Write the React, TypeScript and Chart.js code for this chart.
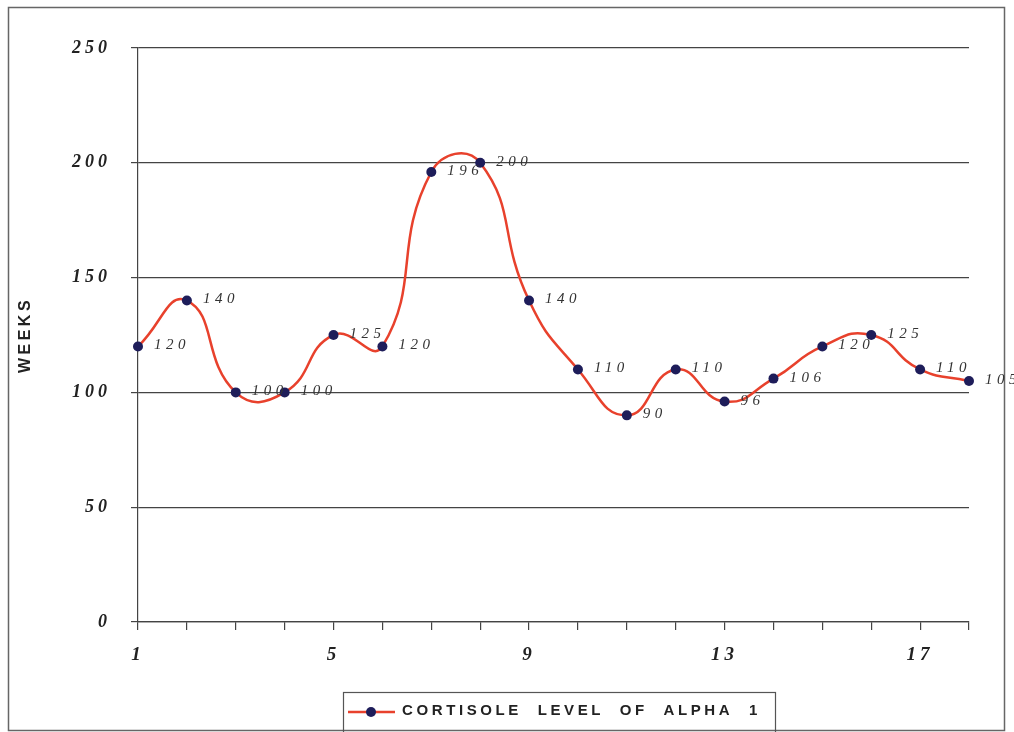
import React, { useEffect, useRef } from "react";
import { Chart, registerables } from "chart.js";

Chart.register(...registerables);

const weeks = ["1","2","3","4","5","6","7","8","9","10","11","12","13","14","15","16","17","18"];
const cortisol = [120, 140, 100, 100, 125, 120, 196, 200, 140, 110, 90, 110, 96, 106, 120, 125, 110, 105];
const shownWeekLabels = ["1", "5", "9", "13", "17"];
const seriesName = "CORTISOLE LEVEL OF ALPHA 1";
const axisTitle = "WEEKS";

const LINE_RED = "#e8412c";
const POINT_NAVY = "#1e1d5a";
const INK = "#333333";

const framePlugin = {
  id: "frame",
  beforeDraw(chart: any) {
    const ctx = chart.ctx;
    ctx.save();
    ctx.fillStyle = "#ffffff";
    ctx.fillRect(0, 0, chart.width, chart.height);
    ctx.strokeStyle = "#666666";
    ctx.lineWidth = 1.5;
    ctx.strokeRect(8.5, 7.5, 996, 723);
    ctx.restore();
    ctx.letterSpacing = "4px";
  },
  afterDraw(chart: any) {
    const ctx = chart.ctx;
    ctx.save();
    // y-axis title
    ctx.letterSpacing = "3.5px";
    ctx.translate(26, 335);
    ctx.rotate(-Math.PI / 2);
    ctx.fillStyle = "#222222";
    ctx.font = "bold 16px 'Liberation Sans', Arial, sans-serif";
    ctx.textAlign = "center";
    ctx.textBaseline = "middle";
    ctx.fillText(axisTitle, 0, 0);
    ctx.restore();

    // legend box
    ctx.save();
    ctx.strokeStyle = "#555555";
    ctx.lineWidth = 1.2;
    ctx.strokeRect(343.5, 692.5, 432, 50);
    ctx.strokeStyle = LINE_RED;
    ctx.lineWidth = 2.5;
    ctx.beginPath();
    ctx.moveTo(348, 712);
    ctx.lineTo(395, 712);
    ctx.stroke();
    ctx.fillStyle = POINT_NAVY;
    ctx.beginPath();
    ctx.arc(371, 712, 5, 0, Math.PI * 2);
    ctx.fill();
    ctx.letterSpacing = "3.6px";
    (ctx as any).wordSpacing = "8px";
    ctx.fillStyle = "#222222";
    ctx.font = "bold 15px 'Liberation Sans', Arial, sans-serif";
    ctx.textAlign = "left";
    ctx.textBaseline = "middle";
    ctx.fillText(seriesName, 402, 711);
    ctx.restore();
  },
  afterDatasetsDraw(chart: any) {
    const ctx = chart.ctx;
    const meta = chart.getDatasetMeta(0);
    ctx.save();
    ctx.letterSpacing = "4.5px";
    ctx.fillStyle = INK;
    ctx.font = "italic 15px 'Liberation Serif', 'Times New Roman', serif";
    ctx.textAlign = "left";
    ctx.textBaseline = "middle";
    meta.data.forEach((pt: any, i: number) => {
      ctx.fillText(String(cortisol[i]), pt.x + 16, pt.y - 1);
    });
    ctx.restore();
  },
};

export default function App() {
  const ref = useRef<HTMLCanvasElement>(null);

  useEffect(() => {
    document.body.style.margin = "0";
    const chart = new Chart(ref.current!, {
      type: "line",
      data: {
        labels: weeks,
        datasets: [
          {
            label: seriesName,
            data: cortisol,
            borderColor: LINE_RED,
            borderWidth: 2.5,
            tension: 0.5,
            pointRadius: 5,
            pointBackgroundColor: POINT_NAVY,
            pointBorderColor: POINT_NAVY,
            pointBorderWidth: 0,
          },
        ],
      },
      options: {
        animation: false,
        responsive: false,
        layout: { padding: { left: 0, top: 48, right: 45, bottom: 0 } },
        plugins: { legend: { display: false }, tooltip: { enabled: false } },
        scales: {
          x: {
            offset: false,
            grid: { drawOnChartArea: false, drawTicks: true, tickLength: 8, color: "#444444", lineWidth: 1.2 },
            border: { color: "#444444", width: 1.2 },
            ticks: {
              autoSkip: false,
              maxRotation: 0,
              padding: 14,
              color: "#222222",
              font: { family: "'Liberation Serif', 'Times New Roman', serif", size: 19, style: "italic", weight: "bold" },
              callback: (_v: any, i: number) => (shownWeekLabels.includes(weeks[i]) ? weeks[i] : ""),
            },
            afterFit: (s: any) => { s.height = 110; },
          },
          y: {
            min: 0,
            max: 250,
            ticks: {
              stepSize: 50,
              padding: 20,
              color: "#222222",
              font: { family: "'Liberation Serif', 'Times New Roman', serif", size: 18, style: "italic", weight: "bold" },
            },
            grid: { color: "#444444", lineWidth: 1.2, tickLength: 7 },
            border: { color: "#444444", width: 1.2 },
            afterFit: (s: any) => { s.width = 138; },
          },
        },
      },
      plugins: [framePlugin],
    });
    return () => chart.destroy();
  }, []);

  return <canvas ref={ref} width={1014} height={732} style={{ display: "block" }} />;
}
